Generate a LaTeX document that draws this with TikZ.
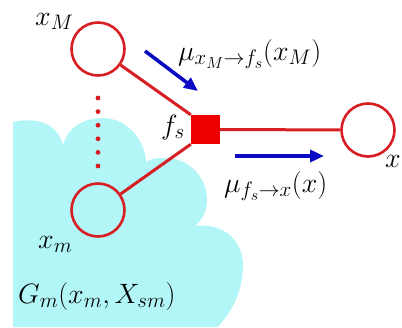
\RequirePackage{fix-cm}
\documentclass[tikz,border=0pt]{standalone}
\usetikzlibrary{arrows.meta}
\DeclareMathSizes{28}{28}{21}{16}
\definecolor{myred}{RGB}{215,30,35}
\definecolor{sqred}{RGB}{238,0,0}
\definecolor{cloudcyan}{RGB}{178,246,247}
\definecolor{msgblue}{RGB}{10,10,195}
\tikzset{
  varnode/.style={circle, draw=myred, line width=2.6pt, minimum size=53pt, inner sep=0pt},
  factornode/.style={rectangle, fill=sqred, minimum size=29pt, inner sep=0pt},
  edge/.style={myred, line width=3pt},
  dotline/.style={myred, line width=4.8pt, line cap=round, dash pattern=on 0pt off 13.6pt},
  msg/.style={msgblue, line width=3.6pt, -{Triangle[length=14pt,width=12pt]}},
  lbl/.style={inner sep=0pt, anchor=base west, font=\fontsize{28}{32}\selectfont},
}
\begin{document}
\begin{tikzpicture}[x=1pt,y=-1pt]
\useasboundingbox (0,0) rectangle (402,327);
\clip (0,0) rectangle (402,327);
% cloud
\fill[cloudcyan] (13,327) -- (13,122)
  .. controls (35,117) and (57,122) .. (63,145)
  .. controls (68,127) and (84,118) .. (103,118)
  .. controls (125,118) and (145,138) .. (146,162)
  .. controls (152,158) and (158,158) .. (165,158)
  .. controls (190,158) and (207,178) .. (207,200)
  .. controls (207,212) and (202,220) .. (195,226)
  .. controls (222,222) and (243,240) .. (243,265)
  .. controls (243,290) and (233,310) .. (218,327) -- cycle;
% nodes
\node[varnode] (xM) at (98,49) {};
\node[varnode] (xm) at (98,210) {};
\node[varnode] (x) at (368,130) {};
\node[factornode] (fs) at (205.5,129.5) {};
% edges
\draw[edge] (xM) -- (fs.north west);
\draw[edge] (xm) -- (fs.south west);
\draw[edge] (fs) -- (x);
% dots
\coordinate (d1) at (98,98);
\coordinate (d2) at (98,166.5);
\draw[dotline] (d1) -- (d2);
% messages
\coordinate (a1s) at (145,51);
\coordinate (a1e) at (198,91);
\coordinate (a2s) at (235,156);
\coordinate (a2e) at (324,156);
\draw[msg] (a1s) -- (a1e);
\draw[msg] (a2s) -- (a2e);
% labels
\node[lbl] (lxM) at (35,25) {$x_M$};
\node[lbl] (lxm) at (38,248) {$x_m$};
\node[lbl] (lfs) at (161,134) {$f_s$};
\node[lbl] (lx) at (385,167) {$x$};
\node[lbl] (lG) at (18,303) {$G_m(x_m,X_{sm})$};
\node[lbl] (lmu1) at (178,60) {$\mu_{x_M\to f_s}(x_M)$};
\node[lbl] (lmu2) at (224,192) {$\mu_{f_s\to x}(x)$};
\end{tikzpicture}
\end{document}
